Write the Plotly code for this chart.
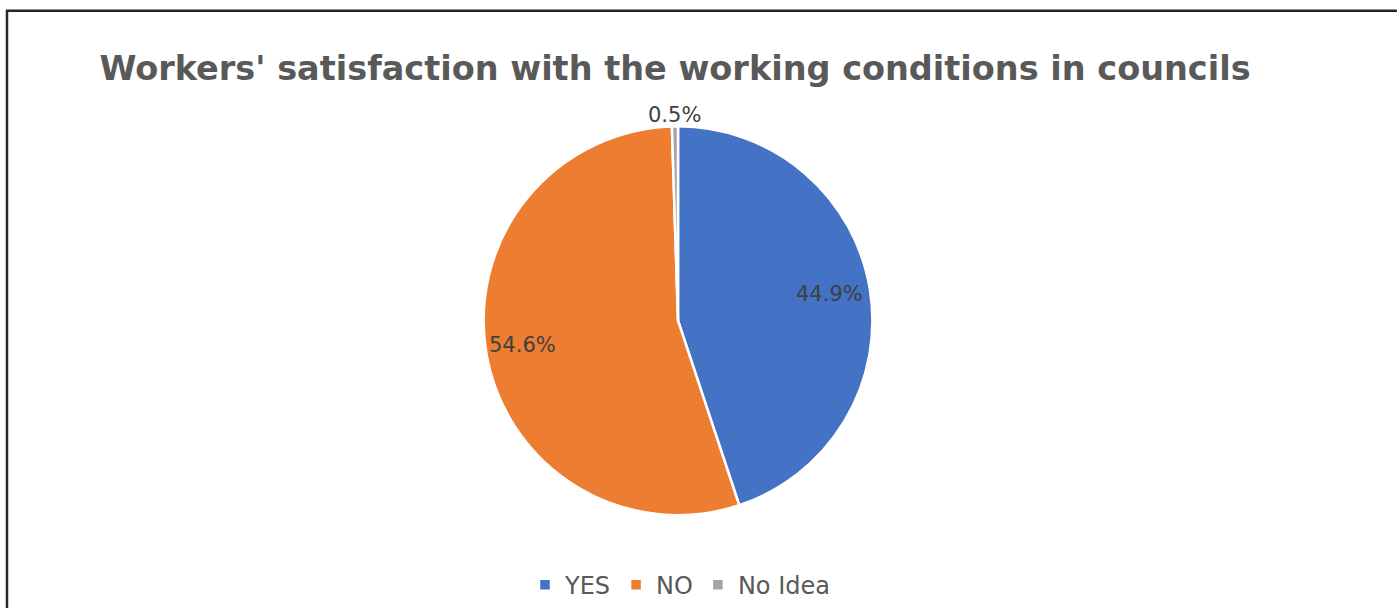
import math
import plotly.graph_objects as go

# Survey answers and their shares (%)
answers = ["YES", "NO", "No Idea"]
shares = [44.9, 54.6, 0.5]
slice_colors = ["#4472C4", "#ED7D31", "#A5A5A5"]

W, H = 1397, 608
cx, cy, r = 678, 325, 197  # pie domain centre and half-size in pixels
# radial distance of each value label from the centre, in pixels
label_dist = [0.78 * r, 0.80 * r, r + 8]

fig = go.Figure(
    go.Pie(
        labels=answers,
        values=shares,
        sort=False,
        direction="clockwise",
        rotation=0,
        marker=dict(colors=slice_colors, line=dict(color="white", width=2.5)),
        textinfo="none",
        hoverinfo="label+percent",
        domain=dict(x=[(cx - r) / W, (cx + r) / W],
                    y=[(H - cy - r) / H, (H - cy + r) / H]),
    )
)

# value labels at the mid-angle of each slice (clockwise from 12 o'clock)
total = sum(shares)
annotations = []
start = 0.0
for v, d in zip(shares, label_dist):
    mid = start + v / total * 360 / 2
    start += v / total * 360
    a = math.radians(mid)
    px = cx + d * math.sin(a)
    py = cy - 3 - d * math.cos(a)
    annotations.append(dict(
        text=f"{v:.1f}%", x=px / W, y=1 - py / H, xref="paper", yref="paper",
        showarrow=False, xanchor="center", yanchor="middle",
        font=dict(family="DejaVu Sans, sans-serif", size=21, color="#404040"),
    ))

fig.update_layout(
    width=W,
    height=H,
    margin=dict(l=0, r=0, t=0, b=0),
    paper_bgcolor="white",
    plot_bgcolor="white",
    title=dict(
        text="<b>Workers' satisfaction with the working conditions in councils</b>",
        x=675 / W,
        xanchor="center",
        y=1 - 68 / H,
        yanchor="middle",
        font=dict(family="DejaVu Sans, sans-serif", size=33.5, color="#595959"),
    ),
    legend=dict(
        orientation="h",
        x=680 / W,
        xanchor="center",
        y=1 - 593 / H,
        yanchor="middle",
        font=dict(family="DejaVu Sans, sans-serif", size=24, color="#595959"),
        itemwidth=30,
        traceorder="normal",
    ),
    annotations=annotations,
    shapes=[
        dict(type="rect", xref="paper", yref="paper",
             x0=7 / W, x1=1.02, y0=-0.02, y1=1 - 11 / H,
             line=dict(color="#262626", width=2.5), layer="above"),
    ],
)

fig.write_html("out.html")
